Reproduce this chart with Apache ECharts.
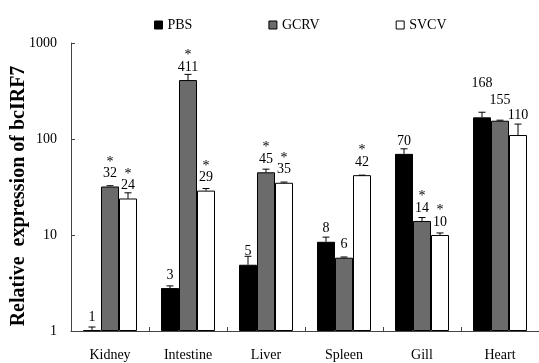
<!DOCTYPE html>
<html>
<head>
<meta charset="utf-8">
<script src="https://cdn.jsdelivr.net/npm/echarts@6/dist/echarts.min.js"></script>
<style>html,body{margin:0;padding:0;background:#fff}#c{width:539px;height:363px}</style>
</head>
<body>
<div id="c"></div>
<script>
var categories = ['Kidney', 'Intestine', 'Liver', 'Spleen', 'Gill', 'Heart'];
var seriesNames = ['PBS', 'GCRV', 'SVCV'];
var pbsValues = [1.02, 2.8, 4.9, 8.5, 70, 168];
var gcrvValues = [32, 411, 45, 5.8, 14, 155];
var svcvValues = [24, 29, 35, 42, 10, 110];
var pbsErrors = [0.08, 0.15, 1.1, 1.0, 9, 22];
var gcrvErrors = [0.6, 60, 3.5, 0.1, 1.2, 2];
var svcvErrors = [3.5, 1.5, 0.6, 0, 0.5, 33];
var pbsLabels = ['1', '3', '5', '8', '70', '168'];
var gcrvLabels = ['32', '411', '45', '6', '14', '155'];
var svcvLabels = ['24', '29', '35', '42', '10', '110'];
var pbsSignif = [0, 0, 0, 0, 0, 0];
var gcrvSignif = [1, 1, 1, 0, 1, 0];
var svcvSignif = [1, 1, 1, 1, 1, 0];
var yTicks = [1, 10, 100, 1000];
var yTitle = 'Relative  expression of bcIRF7';

var values = [pbsValues, gcrvValues, svcvValues];
var errors = [pbsErrors, gcrvErrors, svcvErrors];
var labels = [pbsLabels, gcrvLabels, svcvLabels];
var signif = [pbsSignif, gcrvSignif, svcvSignif];
var colors = ['#000000', '#6b6b6b', '#ffffff'];
var FONT = '"Liberation Serif", "DejaVu Serif", serif';
var BAR_W = 18;
// label distance overrides for the crowded Heart group
var heartDist = [27, 13, 13];

var chart = echarts.init(document.getElementById('c'), null, {renderer: 'canvas'});
var series = [];
seriesNames.forEach(function (name, si) {
  series.push({
    name: name,
    type: 'bar',
    barWidth: BAR_W,
    barGap: '0%',
    itemStyle: {color: colors[si], borderColor: '#000', borderWidth: 1},
    data: values[si].map(function (v, ci) {
      return {
        value: v,
        label: {
          show: true,
          position: 'top',
          distance: ci === 5 ? heartDist[si] : 6,
          formatter: (signif[si][ci] ? '{s|*}\n' : '') + '{n|' + labels[si][ci] + '}',
          rich: {
            s: {fontFamily: FONT, fontSize: 14, lineHeight: 9, color: '#000'},
            n: {fontFamily: FONT, fontSize: 14, lineHeight: 14, color: '#000'}
          }
        }
      };
    }),
    z: 2
  });
});
// error bars
series.push({
  type: 'custom',
  name: 'err',
  z: 3,
  silent: true,
  data: (function () {
    var d = [];
    for (var si = 0; si < 3; si++) {
      for (var ci = 0; ci < categories.length; ci++) {
        d.push([ci, values[si][ci], values[si][ci] + errors[si][ci], si]);
      }
    }
    return d;
  })(),
  renderItem: function (params, api) {
    var ci = api.value(0), v = api.value(1), top = api.value(2), si = api.value(3);
    var p0 = api.coord([ci, v]);
    var p1 = api.coord([ci, top]);
    var x = p0[0] + (si - 1) * BAR_W;
    var hw = 3.5;
    return {
      type: 'group',
      children: [
        {type: 'line', shape: {x1: x, y1: p0[1], x2: x, y2: p1[1]}, style: {stroke: '#000', lineWidth: 1}},
        {type: 'line', shape: {x1: x - hw, y1: p1[1], x2: x + hw, y2: p1[1]}, style: {stroke: '#000', lineWidth: 1}}
      ]
    };
  },
  encode: {x: 0, y: 2}
});

chart.setOption({
  animation: false,
  backgroundColor: '#fff',
  legend: {
    data: seriesNames,
    left: 149,
    top: 13,
    itemGap: 76,
    itemWidth: 8,
    itemHeight: 8,
    icon: 'rect',
    textStyle: {fontFamily: FONT, fontSize: 14, color: '#000'},
    itemStyle: {borderColor: '#000', borderWidth: 1}
  },
  graphic: [{
    type: 'text',
    x: 19,
    y: 196,
    rotation: Math.PI / 2,
    style: {text: yTitle, fontFamily: FONT, fontSize: 20, fontWeight: 'bold', fill: '#000', align: 'center', verticalAlign: 'middle'}
  }],
  grid: {left: 71, right: 0, top: 43, bottom: 32, containLabel: false, outerBoundsMode: 'none'},
  xAxis: {
    type: 'category',
    data: categories,
    axisLine: {lineStyle: {color: '#444', width: 1}},
    axisTick: {show: true, inside: true, length: 4, alignWithLabel: false, lineStyle: {color: '#444'}},
    axisLabel: {fontFamily: FONT, fontSize: 14, color: '#000', margin: 17},
    splitLine: {show: false}
  },
  yAxis: {
    type: 'log',
    logBase: 10,
    min: yTicks[0],
    max: yTicks[yTicks.length - 1],
    axisLine: {show: true, lineStyle: {color: '#444', width: 1}},
    axisTick: {show: true, inside: true, length: 4, lineStyle: {color: '#444'}},
    axisLabel: {fontFamily: FONT, fontSize: 14, color: '#000', margin: 14, formatter: function (v) { return String(Math.round(v)); }},
    splitLine: {show: false}
  },
  series: series
});
</script>
</body>
</html>
